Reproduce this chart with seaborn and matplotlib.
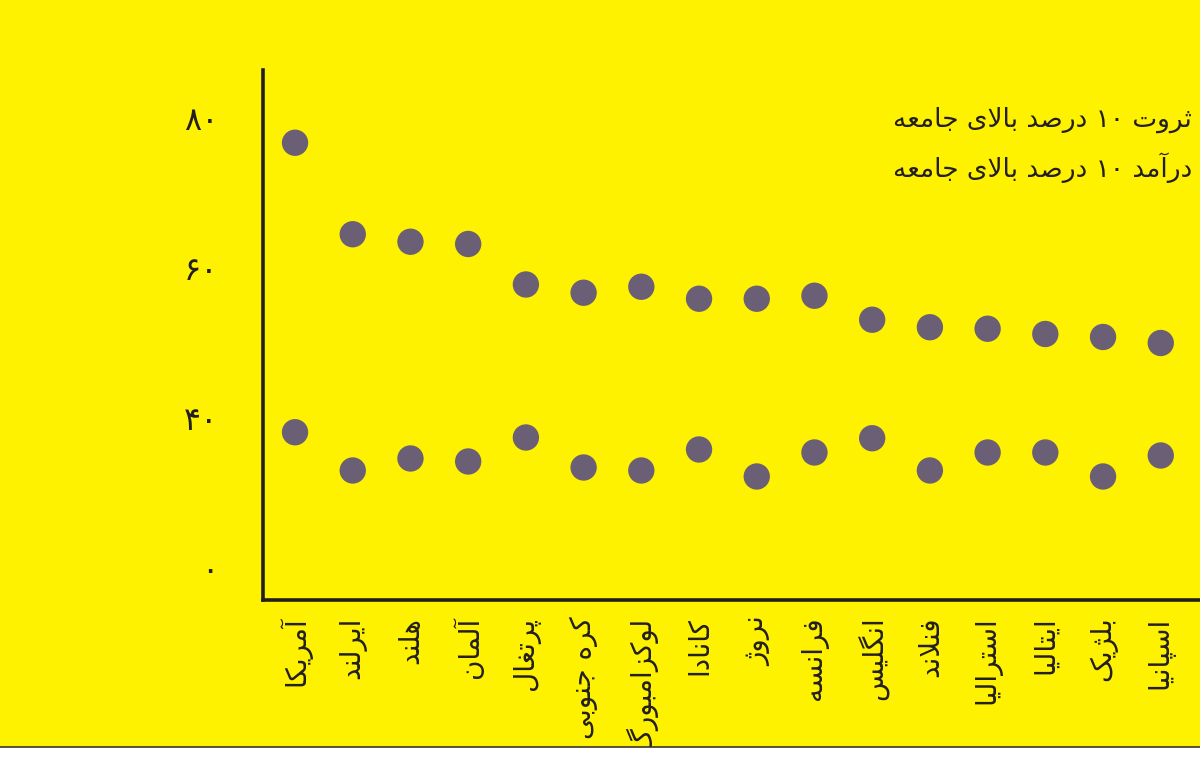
import re
import numpy as np
import pandas as pd
import seaborn as sns
import matplotlib.pyplot as plt
from matplotlib.patches import Rectangle
from matplotlib.lines import Line2D

# --- data ---
countries = ['آمریکا', 'ایرلند', 'هلند', 'آلمان', 'پرتغال', 'کره جنوبی',
             'لوکزامبورگ', 'کانادا', 'نروژ', 'فرانسه', 'انگلیس', 'فنلاند',
             'استرالیا', 'ایتالیا', 'بلژیک', 'اسپانیا']
wealth_top10 = [76.7, 64.5, 63.5, 63.2, 57.8, 56.7, 57.5, 55.9,
                55.9, 56.3, 53.1, 52.1, 51.9, 51.2, 50.8, 50.0]
income_top10 = [38.1, 33.0, 34.6, 34.2, 37.4, 33.4, 33.0, 35.8,
                32.2, 35.4, 37.3, 33.0, 35.4, 35.4, 32.2, 35.0]
series_names = ['ثروت ۱۰ درصد بالای جامعه', 'درآمد ۱۰ درصد بالای جامعه']
ytick_values = [20, 40, 60, 80]
ytick_labels = ['۰', '۴۰', '۶۰', '۸۰']

BG = '#fff200'
DOT = '#6b5f76'
INK = '#231f20'

# matplotlib has no Arabic shaping, so map letters to presentation forms
# (isolated, final, initial, medial); None = letter does not join forward
FORMS = {
    'ا': ('\uFE8D', '\uFE8E', None, None),
    'آ': ('\uFE81', '\uFE82', None, None),
    'ب': ('\uFE8F', '\uFE90', '\uFE91', '\uFE92'),
    'پ': ('\uFB56', '\uFB57', '\uFB58', '\uFB59'),
    'ت': ('\uFE95', '\uFE96', '\uFE97', '\uFE98'),
    'ث': ('\uFE99', '\uFE9A', '\uFE9B', '\uFE9C'),
    'ج': ('\uFE9D', '\uFE9E', '\uFE9F', '\uFEA0'),
    'د': ('\uFEA9', '\uFEAA', None, None),
    'ر': ('\uFEAD', '\uFEAE', None, None),
    'ز': ('\uFEAF', '\uFEB0', None, None),
    'ژ': ('\uFB8A', '\uFB8B', None, None),
    'س': ('\uFEB1', '\uFEB2', '\uFEB3', '\uFEB4'),
    'ص': ('\uFEB9', '\uFEBA', '\uFEBB', '\uFEBC'),
    'ع': ('\uFEC9', '\uFECA', '\uFECB', '\uFECC'),
    'غ': ('\uFECD', '\uFECE', '\uFECF', '\uFED0'),
    'ف': ('\uFED1', '\uFED2', '\uFED3', '\uFED4'),
    'ک': ('\uFB8E', '\uFB8F', '\uFB90', '\uFB91'),
    'گ': ('\uFB92', '\uFB93', '\uFB94', '\uFB95'),
    'ل': ('\uFEDD', '\uFEDE', '\uFEDF', '\uFEE0'),
    'م': ('\uFEE1', '\uFEE2', '\uFEE3', '\uFEE4'),
    'ن': ('\uFEE5', '\uFEE6', '\uFEE7', '\uFEE8'),
    'ه': ('\uFEE9', '\uFEEA', '\uFEEB', '\uFEEC'),
    'و': ('\uFEED', '\uFEEE', None, None),
    'ی': ('\uFBFC', '\uFBFD', '\uFBFE', '\uFBFF'),
}
LAM_ALEF = {'ا': ('\uFEFB', '\uFEFC'), 'آ': ('\uFEF5', '\uFEF6')}
DIGITS = '0123456789۰۱۲۳۴۵۶۷۸۹'


def fa(text):
    out, prev_joins, i = [], False, 0
    while i < len(text):
        c = text[i]
        nxt = text[i + 1] if i + 1 < len(text) else ''
        if c == 'ل' and nxt in LAM_ALEF:
            out.append(LAM_ALEF[nxt][1 if prev_joins else 0])
            prev_joins = False
            i += 2
            continue
        if c in FORMS:
            iso, fin, ini, med = FORMS[c]
            to_next = ini is not None and nxt in FORMS
            if prev_joins and to_next:
                out.append(med)
            elif prev_joins:
                out.append(fin)
            elif to_next:
                out.append(ini)
            else:
                out.append(iso)
            prev_joins = ini is not None
        else:
            out.append(c)
            prev_joins = False
        i += 1
    s = ''.join(out)
    runs = re.findall('[' + DIGITS + ']+|[^' + DIGITS + ']+', s)
    return ''.join(r if r[0] in DIGITS else r[::-1] for r in reversed(runs))


df = pd.DataFrame({
    'country': countries * 2,
    'value': wealth_top10 + income_top10,
    'series': [series_names[0]] * len(countries) + [series_names[1]] * len(countries),
})

sns.set_theme(style='white')
plt.rcParams['font.family'] = ['DejaVu Sans']

fig = plt.figure(figsize=(12, 7.58), dpi=100, facecolor=BG)
ax = fig.add_axes([263 / 1200, 1 - 600 / 758, 1 - 263 / 1200, 530 / 758])
ax.set_facecolor(BG)

sns.scatterplot(data=df, x='country', y='value', hue='series',
                palette=[DOT, DOT], s=360, linewidth=0, legend=False, ax=ax)

ax.set_xlim(-0.555, 15.68)
ax.set_ylim(15.73, 86.4)
ax.set_xticks(range(len(countries)))
ax.set_xticklabels([fa(c) for c in countries], rotation=90,
                   ha='center', va='top', fontsize=20, color=INK)
ax.set_yticks(ytick_values)
ax.set_yticklabels(ytick_labels, fontsize=23, color=INK)
ax.tick_params(axis='x', length=0, pad=12)
ax.tick_params(axis='y', length=0, pad=32)
ax.set_xlabel('')
ax.set_ylabel('')

for side in ['top', 'right']:
    ax.spines[side].set_visible(False)
for side in ['left', 'bottom']:
    ax.spines[side].set_color(INK)
    ax.spines[side].set_linewidth(2.6)

# legend as plain right-aligned text
for k, name in enumerate(series_names):
    fig.text(1192 / 1200, 1 - (120 + 48 * k) / 758, fa(name),
             ha='right', va='center', fontsize=19, color=INK)

# white strip and rule at the bottom of the page
fig.add_artist(Rectangle((0, 0), 1, 11 / 758, transform=fig.transFigure,
                         facecolor='white', edgecolor='none'))
fig.add_artist(Line2D([0, 1], [11 / 758, 11 / 758], transform=fig.transFigure,
                      color='#3a3530', linewidth=1.2))

fig.savefig('out.png', dpi=100, facecolor=BG)
